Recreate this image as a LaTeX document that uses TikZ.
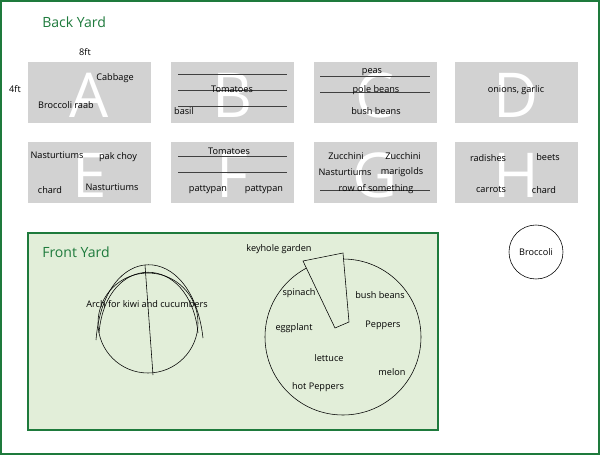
\documentclass[tikz,border=0pt]{standalone}
\usepackage{fontspec}
\setmainfont{Open Sans}
\definecolor{yardgreen}{HTML}{1E7A3C}
\definecolor{lawn}{HTML}{E2EED9}
\definecolor{bedgray}{HTML}{D2D2D2}
\begin{document}
\begin{tikzpicture}[x=0.025cm,y=-0.025cm,
    bed/.style={fill=bedgray,draw=none},
    letter/.style={text=white,font=\fontsize{44}{44}\selectfont},
    plant/.style={font=\fontsize{6.5}{7}\selectfont,inner sep=0pt},
    title/.style={text=yardgreen,font=\fontsize{10}{11}\selectfont,anchor=west,inner sep=0pt},
    row/.style={draw=black!75,thin}]
    \useasboundingbox (0,0) rectangle (600,455);
    %frame
    \draw [yardgreen,line width=0.8pt] (1,1) rectangle (599,454);
    \node [title] (backyard) at (42,22) {Back Yard};
    %beds
    \foreach \bx/\by/\lab in {28/62/A,171/62/B,314/62/C,455/62/D,28/142/E,171/142/F,314/142/G,455/142/H}{
        \fill [bed] (\bx,\by) rectangle ++(123,61);
        \node [letter] (bed\lab) at (\bx+61.5,\by+33) {\lab};
    }
    \node [plant] (width) at (85,52) {8ft};
    \node [plant] (depth) at (15,89) {4ft};
    %A
    \node [plant] (cabbage) at (115,78) {Cabbage};
    \node [plant] (raab) at (66,105) {Broccoli raab};
    %B
    \foreach \ry in {74,90,106} \draw [row] (178,\ry) -- (287,\ry);
    \node [plant] (tomB) at (232,89) {Tomatoes};
    \node [plant] (basil) at (184,111) {basil};
    %C
    \foreach \ry in {76,92} \draw [row] (320,\ry) -- (430,\ry);
    \node [plant] (peas) at (372,72) {peas};
    \node [plant] (pole) at (376,90) {pole beans};
    \node [plant] (bushC) at (376,111) {bush beans};
    %D
    \node [plant] (onions) at (516,90) {onions, garlic};
    %E
    \node [plant] (nastE1) at (57,155) {Nasturtiums};
    \node [plant] (pakchoy) at (118,157) {pak choy};
    \node [plant] (chardE) at (50,190) {chard};
    \node [plant] (nastE2) at (112,187) {Nasturtiums};
    %F
    \foreach \ry in {156,172} \draw [row] (178,\ry) -- (287,\ry);
    \node [plant] (tomF) at (229,151) {Tomatoes};
    \node [plant] (patty1) at (208,190) {pattypan};
    \node [plant] (patty2) at (264,190) {pattypan};
    %G
    \node [plant] (zuc1) at (346,156) {Zucchini};
    \node [plant] (zuc2) at (403,156) {Zucchini};
    \node [plant] (nastG) at (345,172) {Nasturtiums};
    \node [plant] (mari) at (402,172) {marigolds};
    \draw [row] (320,190) -- (430,190);
    \node [plant] (rowsome) at (376,189) {row of something};
    %H
    \node [plant] (radish) at (488,158) {radishes};
    \node [plant] (beets) at (548,157) {beets};
    \node [plant] (carrots) at (491,190) {carrots};
    \node [plant] (chardH) at (544,190) {chard};
    %front yard
    \draw [fill=lawn,draw=yardgreen,thick] (28,233) rectangle (438,430);
    \node [title] (frontyard) at (42,252) {Front Yard};
    %arch
    \draw (148,323) circle (50);
    \draw (96,340) .. controls (104,240) and (192,240) .. (203,338);
    \draw (99,333) .. controls (106,252) and (190,252) .. (198,333);
    \draw (145,265) -- (153,375);
    \node [plant] (arch) at (147,304) {Arch for kiwi and cucumbers};
    %keyhole
    \draw (343,337) circle (78);
    \draw [fill=lawn] (303,261) -- (343,253) -- (349,322) -- (335,328) -- cycle;
    \node [plant] (keyhole) at (279,249) {keyhole garden};
    \node [plant] (spinach) at (299,293) {spinach};
    \node [plant] (bushK) at (380,295) {bush beans};
    \node [plant] (egg) at (294,328) {eggplant};
    \node [plant] (pep) at (383,325) {Peppers};
    \node [plant] (lettuce) at (329,358) {lettuce};
    \node [plant] (melon) at (392,372) {melon};
    \node [plant] (hotpep) at (318,387) {hot Peppers};
    %broccoli
    \draw (536,252) circle (27);
    \node [plant] (broc) at (536,252) {Broccoli};
\end{tikzpicture}
\end{document}
